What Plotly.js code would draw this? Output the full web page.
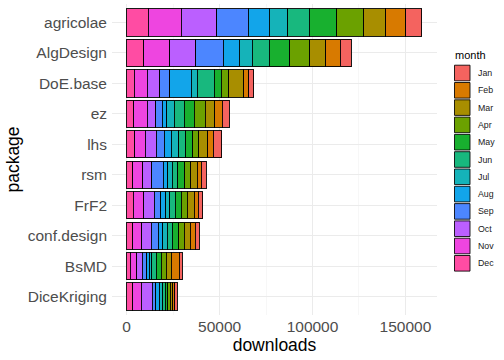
<!DOCTYPE html>
<html>
<head>
<meta charset="utf-8">
<script src="https://cdn.plot.ly/plotly-3.0.1.min.js"></script>
<style>html,body{margin:0;padding:0;background:#fff;}#chart{width:504px;height:360px;}</style>
</head>
<body>
<div id="chart"></div>
<script>
// categories (top to bottom)
var packages = ['agricolae','AlgDesign','DoE.base','ez','lhs','rsm','FrF2','conf.design','BsMD','DiceKriging'];
var months = ['Jan','Feb','Mar','Apr','May','Jun','Jul','Aug','Sep','Oct','Nov','Dec'];
// downloads per month, one value per package (same order as packages)
var Jan = [8600, 6100, 2700, 3800, 4500, 2500, 2400, 2200, 1600, 1300];
var Feb = [10700, 7700, 2700, 3900, 3200, 2200, 2200, 2500, 4100, 1300];
var Mar = [11800, 8600, 8200, 5000, 4600, 3400, 3800, 3400, 2900, 1300];
var Apr = [14700, 10800, 4100, 6100, 3400, 3400, 3200, 3000, 2500, 1300];
var May = [14700, 11100, 3800, 5400, 3800, 3600, 3200, 3400, 2700, 1300];
var Jun = [11500, 9000, 9100, 5400, 3800, 3100, 2800, 2700, 2400, 1500];
var Jul = [10000, 7000, 3200, 3900, 3800, 2500, 2200, 2300, 1400, 1800];
var Aug = [11300, 8600, 11600, 2500, 3800, 2400, 2800, 2500, 1400, 1800];
var Sep = [17000, 14900, 5200, 3500, 4500, 6200, 3600, 3800, 2300, 2000];
var Oct = [19200, 13800, 6800, 4500, 5800, 4800, 5400, 5000, 3000, 5900];
var Nov = [17700, 14200, 7000, 7200, 5700, 5400, 5800, 5000, 3600, 4600];
var Dec = [11600, 9100, 4100, 3900, 4300, 3200, 3500, 3200, 1900, 3200];
var xTicks = [0, 50000, 100000, 150000];
var xTickText = ['0', '50000', '100000', '150000'];

var series = {Jan:Jan, Feb:Feb, Mar:Mar, Apr:Apr, May:May, Jun:Jun, Jul:Jul, Aug:Aug, Sep:Sep, Oct:Oct, Nov:Nov, Dec:Dec};
var colors = {Jan:'#F4635F', Feb:'#D87A00', Mar:'#A88E00', Apr:'#6BA100', May:'#18B02F', Jun:'#18B87E', Jul:'#15B3B9', Aug:'#12A5EA', Sep:'#4C86FF', Oct:'#BB5FFF', Nov:'#EE45E0', Dec:'#FF4CA3'};

// stacking order: Dec leftmost ... Jan rightmost
var order = months.slice().reverse();
var traces = order.map(function(m){
  return {
    type:'bar', orientation:'h', name:m,
    y: packages, x: series[m],
    marker:{color:colors[m], line:{color:'rgba(0,0,0,0.9)', width:1}},
    width:0.9, showlegend:false, hoverinfo:'x+y+name'
  };
});

// manual legend (ggplot style)
var L = 112, R = 67, T = 4, B = 45, W = 504, H = 360;
var pw = W - L - R, ph = H - T - B;
function px2x(p){ return (p - L) / pw; }
function py2y(p){ return (H - B - p) / ph; }
var shapes = [], annotations = [];
annotations.push({xref:'paper', yref:'paper', x:px2x(453), y:py2y(55), xanchor:'left', yanchor:'middle',
  text:'month', showarrow:false, font:{family:'Liberation Sans, Arial, sans-serif', size:11, color:'#000'}});
months.forEach(function(m, i){
  var cy = 73 + 17.3 * i;
  shapes.push({type:'rect', xref:'paper', yref:'paper', x0:px2x(454.5), x1:px2x(470), y0:py2y(cy-7.8), y1:py2y(cy+7.8),
    fillcolor:colors[m], line:{color:'rgba(0,0,0,0.85)', width:1}});
  annotations.push({xref:'paper', yref:'paper', x:px2x(475.5), y:py2y(cy), xanchor:'left', yanchor:'middle',
    text:m, showarrow:false, font:{family:'Liberation Sans, Arial, sans-serif', size:8.8, color:'#1A1A1A'}});
});

var layout = {
  width:W, height:H,
  margin:{l:L, r:R, t:T, b:B, pad:0},
  paper_bgcolor:'#fff', plot_bgcolor:'#fff',
  barmode:'stack', bargap:0.1,
  font:{family:'Liberation Sans, Arial, sans-serif'},
  xaxis:{
    range:[-7900, 167000], tickvals:xTicks, ticktext:xTickText,
    showgrid:true, gridcolor:'#EBEBEB', gridwidth:1.1,
    minor:{tickvals:[25000, 75000, 125000], showgrid:true, gridcolor:'#F2F2F2', gridwidth:0.6},
    zeroline:false, showline:false, ticks:'', ticklabelstandoff:0,
    tickfont:{size:15.5, color:'#4D4D4D'},
    title:{text:'downloads', font:{size:17.5, color:'#000'}, standoff:2}
  },
  yaxis:{
    categoryorder:'array', categoryarray:packages.slice().reverse(),
    range:[-0.6, 9.6], autorange:false,
    showgrid:true, gridcolor:'#EBEBEB', gridwidth:1.1,
    zeroline:false, showline:false, ticks:'', ticklabelstandoff:4,
    tickfont:{size:15.5, color:'#4D4D4D'},
    title:{text:'package', font:{size:17.5, color:'#000'}, standoff:3}
  },
  shapes:shapes, annotations:annotations, showlegend:false
};

Plotly.newPlot('chart', traces, layout, {staticPlot:true, displayModeBar:false});
</script>
</body>
</html>
